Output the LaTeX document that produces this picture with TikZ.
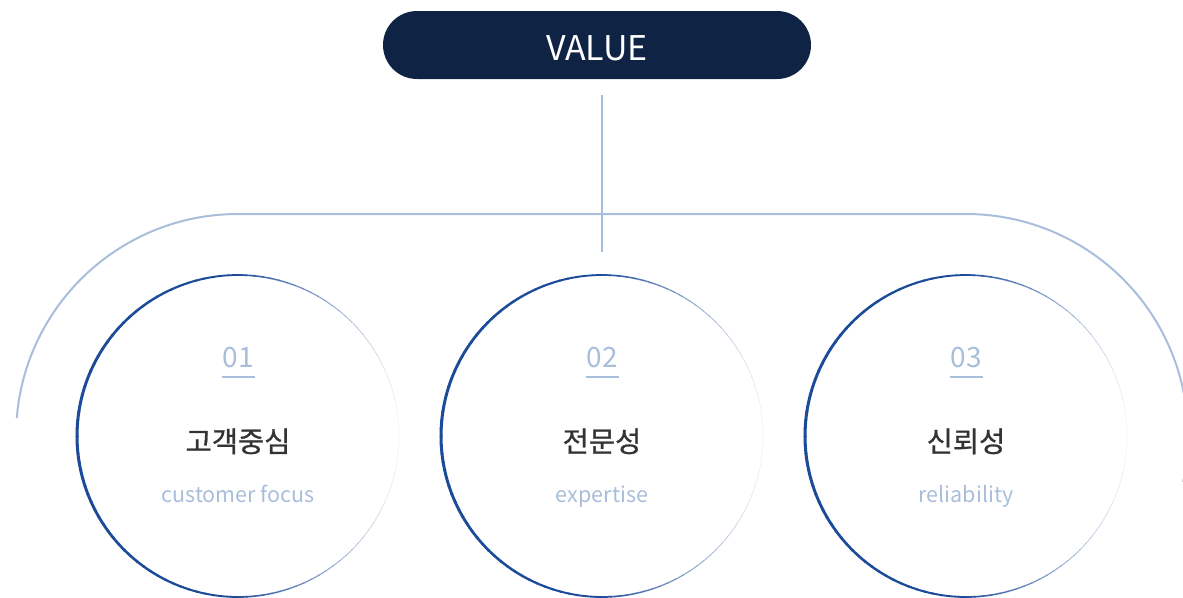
\documentclass[tikz,border=0pt]{standalone}
\usepackage{fontspec}
\usetikzlibrary{calc}
\setmainfont{Noto Sans CJK KR}
\newfontfamily\titlefont[FakeBold=0.9]{Noto Sans CJK KR}
\definecolor{navy}{HTML}{0F2444}
\definecolor{ringblue}{HTML}{1C4B9A}
\definecolor{paleblue}{HTML}{A8BEDA}
\definecolor{darktext}{HTML}{333333}
\tikzset{
  pill/.style={rectangle, rounded corners=34pt, fill=navy, minimum width=428pt, minimum height=68pt, inner sep=0pt},
  pilltext/.style={text=white, font=\fontsize{34}{36}\selectfont, anchor=base},
  link/.style={draw=paleblue, line width=2pt},
  ringnode/.style={circle, minimum size=322pt, inner sep=0pt},
  numtext/.style={text=paleblue, font=\fontsize{28}{30}\selectfont, anchor=base, inner sep=0pt},
  numrule/.style={draw=paleblue, line width=1.5pt},
  titletext/.style={text=darktext, font=\titlefont\fontsize{28.5}{30}\selectfont, anchor=base, inner sep=0pt},
  subtext/.style={text=paleblue, font=\fontsize{21.5}{24}\selectfont, anchor=base, inner sep=0pt}
}
\begin{document}
\begin{tikzpicture}[x=1pt,y=1pt]
\useasboundingbox (0,0) rectangle (1183,-597);
\clip (0,0) rectangle (1183,-597);
% top pill
\node[pill] (value) at (597,-45) {};
\node[pilltext] (valuetext) at (597,-60) {VALUE};
% stem
\coordinate (stemtop) at (602,-95);
\coordinate (stembot) at (602,-252);
\draw[link] (stemtop) -- (stembot);
% circles
\foreach \cx/\num/\ko/\en/\nm in {238/01/고객중심/customer focus/a, 602/02/전문성/expertise/b, 966/03/신뢰성/reliability/c}{
  \node[ringnode] (ring\nm) at (\cx,-436) {};
  \foreach \a in {0,3,...,357}{
    \pgfmathsetmacro\t{(1-cos(\a+1.5))/2}
    \pgfmathsetmacro\p{min(100,8+180*\t)}
    \pgfmathsetmacro\w{0.5+2.5*\t}
    \draw[draw=ringblue!\p!white, line width=\w pt] (ring\nm.center) ++(\a:161) arc[start angle=\a, end angle=\a+3.4, radius=161];
  }
  \node[numtext] (num\nm) at (\cx,-367) {\num};
  \draw[numrule] (\cx-16.5,-377) -- (\cx+16.5,-377);
  \node[titletext] (ko\nm) at (\cx,-452) {\ko};
  \node[subtext] (en\nm) at (\cx,-502) {\en};
}
% outer arc
\draw[link] (ringa.center) ++(175.35:222) arc[start angle=175.35, end angle=90, radius=222]
  -- ($(ringc.center)+(0,222)$) arc[start angle=90, end angle=-12, radius=222];
\end{tikzpicture}
\end{document}
